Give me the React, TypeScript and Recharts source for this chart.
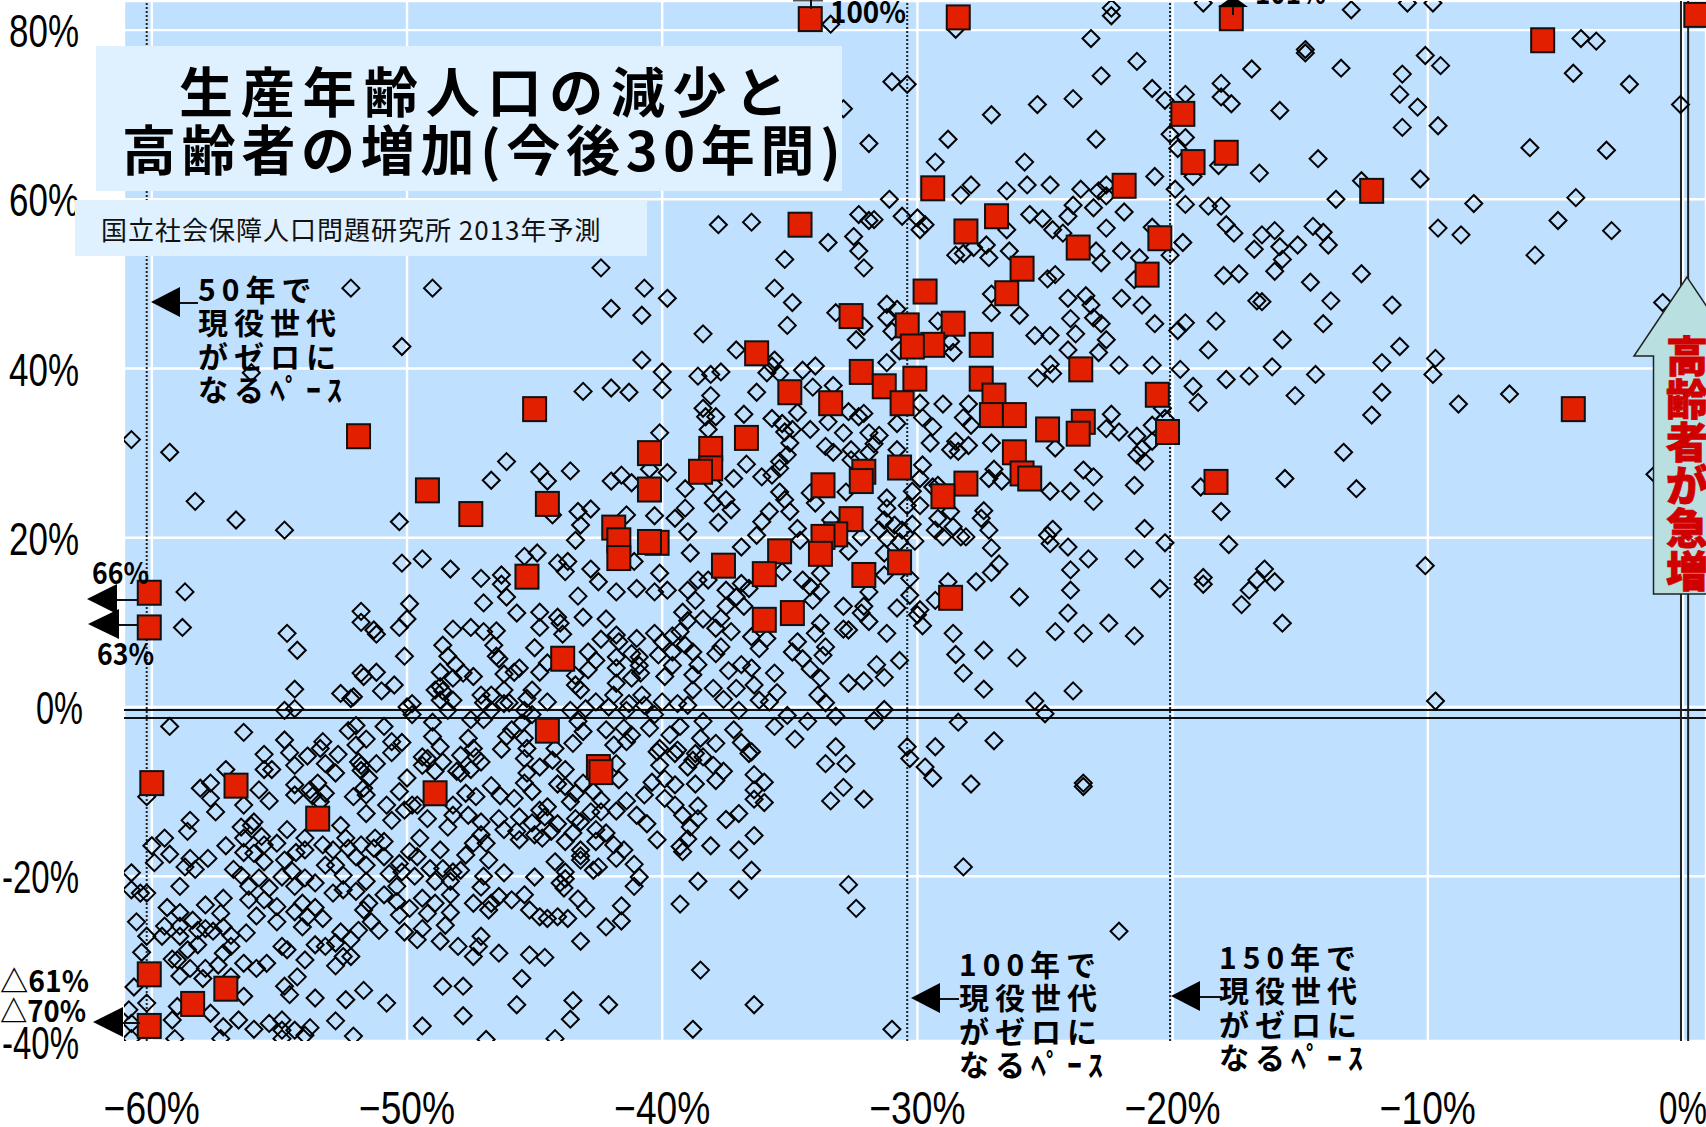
import { CartesianGrid, ReferenceLine, Scatter, ScatterChart, XAxis, YAxis } from "recharts";

const xTicks = [-60, -50, -40, -30, -20, -10, 0];
const yTicks = [80, 60, 40, 20, 0, -20, -40];

// 高齢者 / 生産年齢 change of the highlighted cities (red squares)
const highlighted: number[][] = [
  [-34.2,81.3],[-28.4,81.5],[-17.7,81.4],[-5.5,78.8],[0.5,81.8],[-19.6,70.1],[-17.9,65.5],[-19.2,64.4],[-21.9,61.6],[-29.4,61.3],
  [-12.2,61.0],[-26.9,58.0],[-34.6,57.0],[-28.1,56.2],[-20.5,55.4],[-23.7,54.3],[-25.9,51.8],[-21.0,51.1],[-29.7,49.1],[-26.5,48.9],
  [-32.6,46.2],[-28.6,45.3],[-30.4,45.1],[-29.4,42.8],[-30.2,42.6],[-27.5,42.8],[-36.3,41.8],[-23.6,39.9],[-32.2,39.6],[-27.5,38.8],
  [-30.1,38.8],[-31.3,37.9],[-35.0,37.2],[-20.6,36.9],[-27.0,36.8],[-30.6,35.9],[-33.4,35.9],[-45.0,35.2],[-4.3,35.2],[-27.1,34.5],
  [-26.2,34.5],[-23.5,33.7],[-23.7,32.3],[-24.9,32.8],[-20.2,32.5],[-51.9,32.0],[-36.7,31.8],[-38.1,30.5],[-40.5,30.0],[-26.2,30.1],
  [-25.9,27.6],[-25.6,27.0],[-30.7,28.3],[-38.1,28.2],[-38.5,27.8],[-32.1,27.8],[-32.2,26.7],[-33.7,26.2],[-28.1,26.4],[-18.3,26.6],
  [-40.5,25.7],[-49.2,25.6],[-29.0,24.9],[-47.5,22.8],[-44.5,24.0],[-32.6,22.2],[-41.9,21.2],[-33.2,20.4],[-33.7,20.1],[-40.2,19.4],
  [-40.5,19.5],[-41.7,19.7],[-41.7,17.6],[-33.8,18.1],[-30.7,17.1],[-35.4,18.4],[-37.6,16.7],[-36.0,15.7],[-32.1,15.6],[-45.3,15.4],
  [-28.7,12.9],[-60.1,13.5],[-60.1,9.4],[-34.9,11.1],[-36.0,10.3],[-43.9,5.7],[-44.5,-2.8],[-42.5,-7.1],[-42.4,-7.7],[-48.9,-10.2],
  [-60.0,-9.0],[-56.7,-9.3],[-53.5,-13.2],[-60.1,-31.6],[-57.1,-33.3],[-58.4,-35.1],[-60.1,-37.7],
];

// all other cities (open diamonds), right part of the plot
const citiesEast: number[][] = [
  [-18.8,83.2],[-13.0,82.4],[-10.8,83.2],[-9.8,83.2],[-14.8,77.7],[-14.8,77.3],[-10.1,77.0],[-9.5,75.8],[-16.9,75.4],[-13.4,75.5],
  [-21.4,76.3],[-11.0,74.8],[-4.0,79.0],[-3.4,78.7],[-4.3,74.9],[-2.1,73.6],[-18.1,73.7],[-20.8,73.1],[-19.5,72.4],[-20.3,71.7],
  [-18.1,72.1],[-17.7,71.3],[-11.1,72.4],[-10.4,70.9],[-15.8,70.5],[-0.1,71.2],[-11.0,68.5],[-9.6,68.7],[-20.1,67.7],[-19.5,67.3],
  [-19.8,66.0],[-6.0,66.1],[-3.0,65.8],[-14.3,64.8],[-18.2,64.0],[-16.6,63.1],[-19.2,62.7],[-20.7,62.7],[-12.6,62.2],[-10.3,62.4],
  [-19.9,61.2],[-19.5,59.4],[-18.6,59.2],[-18.1,59.2],[-13.6,60.0],[-8.2,59.5],[-4.2,60.2],[-17.9,57.0],[-20.8,56.7],[-17.6,56.0],
  [-16.5,55.8],[-16.0,56.3],[-14.5,56.8],[-14.1,56.1],[-9.6,56.6],[-8.7,55.8],[-4.9,57.5],[-2.8,56.3],[-19.6,54.9],[-16.8,54.1],
  [-15.8,54.4],[-15.1,54.6],[-13.9,54.6],[-20.1,53.4],[-21.3,53.1],[-15.7,52.9],[-5.8,53.4],[-18.0,51.0],[-17.4,51.2],[-16.0,51.5],
  [-14.6,50.2],[-12.6,51.2],[-16.7,48.0],[-16.5,47.9],[-21.2,47.5],[-13.8,48.0],[-11.4,47.5],[-0.8,47.8],[-20.7,45.3],[-19.5,45.4],
  [-19.8,44.5],[-18.3,45.6],[-14.1,45.3],[-18.6,42.2],[-15.7,43.4],[-11.1,42.6],[-20.8,40.4],[-19.7,39.9],[-16.1,40.2],[-11.8,40.7],
  [-9.7,41.2],[-14.4,39.3],[-9.8,39.3],[-17.9,38.7],[-17.0,39.1],[-19.2,37.9],[-19.0,36.0],[-15.2,36.8],[-11.8,37.2],[-6.8,37.0],
  [-8.8,35.8],[-12.2,34.5],[-13.3,30.1],[-15.6,27.0],[-12.8,25.8],[-18.9,26.0],[-18.1,23.1],[-21.1,21.1],[-20.3,19.4],[-17.8,19.2],
  [-21.5,17.5],[-16.4,16.3],[-16.7,15.0],[-16.0,14.8],[-18.8,15.3],[-18.8,14.5],[-17.0,13.8],[-20.5,14.0],[-17.3,12.1],[-15.7,9.9],
  [-21.5,8.4],[-10.1,16.7],[-9.7,0.7],[-1.1,27.5],[-21.5,26.2],[-21.1,29.0],[-21.4,29.8],[-21.2,30.5],[-20.8,31.4],[-20.8,33.3],
  [-21.4,32.0],[-20.3,34.1],[-20.4,35.3],
];

// middle of the plot, above the 40% line
const citiesUpperMiddle: number[][] = [
  [-33.4,80.7],[-28.5,80.1],[-22.4,82.6],[-22.4,81.7],[-23.2,79.0],[-31.0,73.9],[-30.4,73.6],[-22.8,74.6],[-23.9,71.9],[-25.3,71.2],
  [-27.1,70.0],[-32.9,70.7],[-31.9,66.6],[-28.8,67.1],[-23.0,67.1],[-29.3,64.4],[-25.8,64.4],[-27.9,61.7],[-28.3,60.5],[-26.5,61.0],
  [-25.7,61.7],[-24.8,61.7],[-23.6,61.2],[-22.6,61.7],[-22.9,61.0],[-22.6,60.4],[-31.1,60.0],[-32.3,58.2],[-31.9,57.5],[-31.7,57.6],
  [-30.6,58.0],[-30.0,57.8],[-29.7,57.0],[-29.9,56.4],[-25.6,58.2],[-25.1,57.7],[-23.9,59.3],[-24.1,58.0],[-23.1,59.0],[-21.9,58.5],
  [-24.7,56.4],[-24.3,56.0],[-22.6,56.6],[-26.5,56.4],[-37.8,57.0],[-36.5,57.3],[-33.5,54.9],[-32.5,55.6],[-32.3,53.9],[-27.3,54.6],
  [-27.8,54.3],[-28.2,53.6],[-28.5,53.4],[-27.2,53.1],[-26.4,53.9],[-23.0,53.9],[-22.0,53.9],[-22.8,52.5],[-35.2,52.9],
  [-42.4,51.9],[-32.1,51.9],[-24.6,51.1],[-24.9,50.6],[-21.5,50.5],[-40.7,49.5],[-39.8,48.3],[-35.6,49.5],[-34.9,47.8],[-42.0,47.1],
  [-40.8,46.3],[-35.1,45.1],[-38.4,44.1],[-33.2,46.6],[-31.2,47.6],[-30.8,47.0],[-31.2,46.0],[-29.2,45.6],[-31.0,44.4],[-32.1,45.0],
  [-32.4,43.4],[-27.1,48.8],[-27.1,46.6],[-26.0,46.3],[-24.1,48.3],[-23.4,48.6],[-23.2,47.5],[-22.0,48.3],[-24.0,45.9],
  [-23.1,46.0],[-22.8,45.3],[-25.4,43.9],[-24.8,43.9],[-23.8,44.1],[-22.6,43.4],[-24.1,42.2],[-22.9,41.9],[-22.1,40.4],[-24.8,40.5],
  [-24.7,39.4],[-25.3,38.9],[-28.6,41.9],[-28.7,43.2],[-30.7,42.1],[-31.2,40.7],[-40.8,41.0],[-37.1,42.2],[-35.6,41.0],[-35.7,40.3],
  [-35.4,39.4],[-40.0,39.6],[-38.6,39.1],[-38.1,39.3],[-37.7,39.6],[-35.9,39.5],[-34.5,39.8],[-34.0,40.3],
  [-52.2,49.5],[-49.0,49.5],[-50.2,42.6],[-56.1,39.5],
];

// far left, from 32% down to about -5%
const citiesWest: number[][] = [
  [-60.8,31.6],[-59.3,30.1],[-58.3,24.3],[-56.7,22.1],[-54.8,20.9],[-50.3,21.9],[-46.7,26.8],[-46.1,29.0],[-44.8,27.8],[-44.5,26.7],
  [-44.3,22.7],[-50.2,17.0],[-49.4,17.5],[-48.3,16.3],[-47.1,15.2],[-45.4,17.8],[-44.9,18.2],[-44.1,17.0],[-46.3,15.6],[-46.3,14.5],
  [-46.1,13.0],[-47.0,12.3],[-45.7,11.1],[-44.8,11.2],[-44.1,10.6],[-44.8,9.4],[-58.7,13.6],[-58.8,9.4],[-54.7,8.7],[-54.3,6.7],
  [-51.8,11.3],[-51.8,10.0],[-51.3,9.1],[-51.2,8.6],[-49.9,12.2],[-50.0,10.4],[-50.3,9.4],[-48.2,9.2],[-47.5,9.4],[-47.0,8.9],
  [-46.5,9.0],[-48.6,7.3],[-46.6,7.3],[-50.1,6.0],[-48.4,6.0],[-48.1,5.0],[-46.5,6.0],[-46.4,5.7],[-45.0,7.0],[-48.7,4.1],
  [-47.8,4.0],[-47.4,3.6],[-51.8,4.0],[-51.7,3.6],[-51.2,4.1],[-48.2,3.4],[-45.6,4.6],[-45.8,4.1],[-44.8,4.1],[-46.2,3.9],
  [-50.5,2.6],[-51.0,1.9],[-54.4,2.1],[-52.6,1.6],[-52.2,1.0],[-52.1,1.2],[-48.7,2.4],[-48.6,1.9],[-48.9,2.0],[-46.2,2.0],
  [-47.1,1.4],[-46.7,1.4],[-45.1,2.0],[-48.2,0.8],[-48.7,0.8],[-47.0,0.5],[-46.2,0.4],[-46.0,0.5],[-44.5,0.6],[-45.3,1.0],
  [-54.4,-0.2],[-54.8,-0.4],[-50.0,0.0],[-49.8,0.4],[-49.8,-0.9],[-48.4,-0.4],[-45.4,-0.4],[-49.0,-1.8],[-47.5,-1.5],[-47.0,-1.5],
  [-46.7,-0.4],[-45.5,-1.9],[-45.1,-0.9],[-59.3,-2.3],[-56.4,-3.0],[-52.0,-2.2],[-52.3,-2.8],[-50.9,-2.3],[-51.6,-3.8],[-54.8,-3.9],
  [-53.3,-4.1],[-53.4,-4.9],[-55.6,-5.6],[-54.6,-5.4],[-53.9,-5.8],[-52.7,-5.6],[-52.0,-4.5],[-50.6,-4.1],[-50.2,-4.2],[-50.6,-5.4],
  [-49.0,-3.5],[-48.7,-4.7],[-49.4,-5.9],[-47.6,-3.7],[-47.4,-4.9],[-46.3,-5.0],[-46.1,-3.5],[-45.9,-2.7],[-45.4,-3.7],[-45.3,-4.9],
  [-44.2,-4.9],[-43.9,8.6],[-44.5,5.2],[-43.4,3.7],[-42.6,5.5],[-41.8,8.5],[-41.2,6.3],[-40.9,5.9],[-41.2,3.4],[-40.85,4.0],
  [-40.15,6.15],[-41.9,1.4],[-41.3,0.4],[-40.7,0.2],[-43.6,-0.4],
];

// middle of the plot, 38% down to -5%
const citiesMiddle: number[][] = [
  [-43.1,37.3],[-42.0,37.7],[-41.3,37.2],[-40.0,37.5],[-38.1,36.8],[-36.3,37.2],[-34.1,37.8],[-33.3,38.0],[-38.4,35.3],[-36.8,34.6],
  [-38.3,34.3],[-37.9,34.3],[-35.7,34.1],[-34.7,34.8],[-38.2,32.8],[-40.1,32.4],[-35.3,33.5],[-35.2,32.5],[-34.9,32.8],[-34.2,32.8],
  [-33.5,33.7],[-32.9,32.4],[-32.7,34.9],[-32.3,34.3],[-32.1,34.7],[-31.9,32.4],[-31.5,32.1],[-30.8,33.5],[-29.8,34.2],[-29.4,33.1],
  [-29.0,35.8],[-29.9,35.9],[-29.5,31.2],[-31.7,31.1],[-33.6,30.8],[-33.3,30.1],[-32.6,30.4],[-31.9,30.1],[-30.8,30.4],[-35.0,31.2],
  [-35.1,29.8],[-35.4,29.0],[-35.4,28.2],[-35.7,27.4],[-36.1,27.2],[-36.7,28.7],[-37.2,27.0],[-38.0,26.3],[-39.8,27.7],[-40.5,28.1],
  [-41.2,26.5],[-41.6,27.4],[-42.0,26.7],[-43.6,27.9],[-39.1,25.8],[-35.4,25.4],[-35.2,24.5],[-34.0,24.1],[-34.2,25.3],[-32.8,25.4],
  [-32.6,29.2],[-31.2,24.7],[-31.2,23.5],[-29.9,27.0],[-29.8,28.6],[-30.2,25.5],[-30.4,23.8],[-29.9,23.8],[-28.0,35.8],[-28.2,34.2],
  [-27.9,33.3],[-28.0,30.9],[-28.5,31.4],[-28.7,30.4],[-28.4,30.2],[-27.1,31.2],[-27.0,28.1],[-27.2,27.0],[-26.7,26.7],[-24.6,30.6],
  [-23.5,28.0],[-23.1,27.2],[-24.8,25.5],[-24.0,25.5],[-23.1,24.3],[-22.1,32.5],[-22.6,32.9],[-22.4,34.6],
  [-29.2,26.2],[-27.4,23.2],[-27.5,22.3],[-27.2,20.9],[-27.1,18.8],[-26.8,16.9],[-27.1,15.9],[-27.7,14.8],[-28.8,14.8],[-29.3,12.6],
  [-26.0,13.0],[-24.7,21.0],[-24.9,20.3],[-24.8,19.3],[-24.1,18.9],[-23.3,17.5],[-24.0,16.2],[-24.0,13.8],[-24.1,11.1],
  [-22.5,9.9],[-24.6,8.9],[-23.5,8.7],[-27.4,6.7],[-26.1,5.8],[-28.5,6.2],[-28.6,8.7],[-28.2,4.0],[-27.4,2.1],
  [-23.9,1.9],[-25.4,0.7],[-25.0,-0.8],[-28.4,-1.8],[-27.0,-4.0],[-29.3,-4.7],[-30.7,5.5],[-31.6,5.0],[-31.3,3.5],[-32.1,3.1],
  [-32.7,2.8],[-30.3,13.2],[-30.3,15.2],[-31.3,15.6],[-31.9,13.6],[-30.8,11.7],[-29.9,11.5],[-30.0,10.9],[-29.8,9.6],[-31.2,8.7],
  [-32.1,11.9],[-32.2,11.1],[-31.9,10.1],[-32.9,11.9],[-33.8,15.8],[-34.5,15.0],[-34.2,14.2],[-33.8,13.6],[-34.1,12.6],[-33.8,9.9],
  [-32.9,9.2],[-32.7,9.1],[-34.0,8.7],[-34.9,6.5],[-34.7,7.7],[-33.6,7.1],[-33.7,6.1],[-34.5,5.7],[-34.2,4.5],[-33.8,3.4],
  [-33.9,1.4],[-33.6,0.5],[-31.3,-0.3],[-31.7,-1.6],[-33.2,-1.1],[-34.3,-1.7],[-35.6,-2.3],[-34.8,-3.8],[-33.2,-4.7],[-30.4,-4.7],
  [-35.1,-1.0],[-35.5,1.7],[-35.6,4.0],[-36.5,4.6],[-36.9,5.0],[-36.4,2.6],[-36.2,0.8],[-35.8,0.6],[-36.2,6.9],[-36.5,8.3],
  [-35.9,8.1],[-37.3,8.9],[-37.7,7.1],[-37.9,6.3],[-37.9,9.3],[-37.7,10.5],[-37.5,11.9],[-38.4,10.4],[-39.0,10.2],[-39.2,11.2],
  [-40.3,8.7],[-40.0,7.7],[-39.6,8.4],[-39.3,8.9],[-39.1,7.3],[-38.8,6.5],[-39.6,6.5],[-41.0,8.1],[-41.7,7.7],[-42.4,8.0],
  [-42.2,10.4],[-43.1,10.6],[-44.0,9.9],[-41.8,5.9],[-42.9,6.5],[-40.9,4.9],[-41.8,4.6],[-42.9,4.4],[-39.9,3.6],[-39.6,4.9],
  [-41.8,2.8],[-43.4,2.6],[-43.2,2.0],[-38.8,2.0],[-38.8,3.8],[-38.6,5.0],[-38.0,2.2],[-37.4,4.3],[-37.1,2.2],[-37.6,0.9],
  [-37.0,-0.4],[-40.8,1.4],[-40.0,0.6],[-42.6,0.6],[-42.1,0.0],[-43.0,-0.2],[-41.4,-0.4],[-39.4,0.4],[-39.0,0.2],[-40.3,-0.9],
  [-39.3,-2.3],[-40.5,-2.5],[-41.5,-2.5],[-42.2,-2.7],[-43.1,-2.9],[-43.3,-1.7],[-41.4,-4.1],[-39.7,-3.3],[-38.5,-3.7],[-37.9,-4.3],
  [-37.2,-2.7],[-36.9,-4.2],[-36.5,-5.3],[-38.4,-1.7],[-43.5,-4.3],[-40.1,-4.9],[-39.4,-5.1],[-38.7,-5.5],[-41.9,-4.5],[-38.0,24.1],
  [-37.5,24.5],[-37.3,23.3],[-37.8,21.8],[-39.1,23.5],[-39.5,22.3],[-39.0,20.7],[-40.3,22.6],[-41.4,22.7],[-43.3,23.1],[-42.8,23.4],
  [-43.2,21.5],[-43.4,19.7],[-43.7,17.2],[-43.8,16.0],[-42.8,16.3],[-42.5,14.8],[-41.8,13.6],[-41.0,14.0],[-40.3,13.6],[-39.8,13.8],
  [-40.1,15.8],[-41.1,17.2],[-38.9,18.2],[-39.0,13.8],[-38.7,12.6],[-38.6,15.0],[-43.3,13.1],[-38.2,15.0],[-36.9,18.9],[-36.3,20.3],
  [-36.1,21.9],[-35.8,23.1],[-35.0,23.1],[-34.7,21.1],[-34.6,19.7],[-35.3,16.0],[-36.9,14.6],[-37.5,13.8],[-37.1,13.0],[-36.8,11.9],
  [-36.6,14.0],[-33.4,22.1],[-32.2,20.1],[-32.7,18.4],[-31.3,22.1],[-31.5,20.9],[-31.2,19.9],[-31.3,18.2],[-30.9,21.5],[-30.6,20.9],
  [-30.7,19.5],[-30.2,21.6],[-30.1,19.6],[-29.3,20.9],[-29.0,20.1],[-28.6,21.3],[-28.3,20.1],[-28.1,20.1],[-29.2,22.3],[-28.7,23.1],
  [-29.4,26.0],
];

// lower left, below about -5%
const citiesSouthWest: number[][] = [
  [-57.1,-7.4],[-58.1,-9.6],[-57.7,-9.0],[-57.7,-10.8],[-60.2,-10.6],[-57.5,-12.4],[-56.4,-11.6],[-55.8,-9.8],[-55.4,-11.1],[-55.6,-7.4],
  [-55.3,-7.4],[-54.4,-6.9],[-53.2,-6.7],[-52.8,-7.8],[-51.9,-6.5],[-51.2,-6.7],
  [-51.5,-8.4],[-51.8,-7.5],[-50.0,-8.4],[-52.1,-10.6],[-51.6,-10.4],[-51.6,-12.6],[-54.4,-9.2],[-53.5,-9.0],[-53.8,-9.8],[-53.2,-10.2],
  [-54.4,-10.4],[-53.4,-11.2],[-50.8,-11.6],[-50.6,-13.4],[-50.3,-10.0],[-50.1,-12.2],[-49.8,-11.6],[-49.6,-11.6],[-49.4,-6.9],[-49.2,-6.1],
  [-48.6,-6.5],[-48.9,-7.6],[-47.9,-7.8],[-47.5,-7.4],[-47.1,-6.5],[-47.3,-10.6],[-46.7,-9.3],[-48.2,-11.6],[-49.2,-13.2],[-48.4,-14.2],
  [-48.2,-12.8],[-47.6,-12.8],[-47.1,-13.6],[-46.4,-13.2],[-45.8,-10.8],[-45.1,-10.0],[-44.8,-12.2],[-44.5,-11.8],[-45.6,-13.0],[-45.1,-13.7],
  [-46.2,-14.5],[-45.6,-15.7],[-44.7,-15.5],[-46.9,-16.1],[-47.4,-16.1],[-49.5,-15.5],[-48.7,-16.9],[-49.9,-17.1],[-50.9,-15.9],
  [-51.8,-16.3],[-52.4,-15.5],[-53.3,-16.3],[-54.0,-15.5],[-54.7,-14.5],[-52.6,-14.0],[-55.1,-16.1],[-55.6,-16.3],[-56.4,-15.5],[-57.1,-16.4],
  [-56.1,-14.0],[-56.5,-14.2],[-56.0,-13.6],[-58.5,-13.4],[-58.6,-14.7],[-59.5,-15.5],[-60.0,-16.4],[-59.3,-17.4],[-59.9,-18.4],[-58.5,-17.9],
  [-57.8,-17.9],[-58.3,-19.2],[-58.7,-18.9],[-60.8,-19.6],[-60.8,-21.6],[-60.2,-22.0],[-58.9,-21.2],[-56.8,-19.2],[-56.5,-19.9],[-56.4,-17.2],
  [-56.0,-17.3],[-55.6,-18.3],[-54.8,-18.1],[-54.0,-16.9],[-55.8,-20.2],[-56.2,-21.2],[-55.4,-21.4],[-54.9,-20.1],[-54.5,-19.4],[-54.4,-21.2],
  [-54.0,-20.2],[-53.6,-20.8],[-52.9,-22.0],[-52.5,-21.6],[-52.5,-19.9],[-53.2,-18.7],[-52.8,-18.7],[-52.0,-17.7],[-51.6,-18.7],[-51.6,-20.6],
  [-52.0,-21.8],[-50.9,-17.7],[-50.7,-19.7],[-50.3,-18.5],[-50.4,-21.2],[-50.9,-22.2],[-49.6,-17.7],[-49.7,-20.0],[-49.1,-19.1],[-48.6,-19.1],
  [-48.9,-20.6],[-48.2,-19.5],[-47.9,-19.3],[-47.0,-20.0],[-46.8,-18.1],[-46.2,-19.6],[-45.0,-20.1],[-44.2,-18.3],[-44.0,-20.8],[-47.1,-21.3],
  [-48.3,-22.2],[-49.4,-22.6],[-49.9,-23.8],[-50.3,-24.6],[-48.9,-23.2],[-48.3,-24.3],[-49.2,-24.4],[-48.5,-25.8],[-49.4,-26.2],[-50.1,-26.6],
  [-49.6,-27.5],[-48.7,-27.7],[-48.0,-28.3],[-47.4,-29.5],[-47.1,-27.1],[-47.2,-28.3],[-46.4,-29.1],[-47.4,-23.2],[-46.8,-24.0],[-46.4,-22.4],
  [-45.9,-22.8],[-45.4,-22.2],[-45.2,-24.0],[-44.8,-24.8],[-44.5,-25.0],[-44.1,-24.8],[-45.2,-29.3],[-44.6,-29.6],[-45.5,-32.1],[-48.6,-33.0],
  [-47.8,-33.0],[-45.7,-35.2],[-47.8,-36.5],[-49.4,-37.7],[-50.8,-35.0],[-51.7,-33.5],[-52.4,-34.6],[-53.6,-34.4],[-52.8,-37.1],[-52.1,-38.9],
  [-46.9,-39.3],[-44.2,-39.2],[-51.1,-26.4],[-51.9,-26.4],[-52.6,-26.6],[-51.4,-25.4],[-51.7,-24.0],[-51.5,-23.2],[-53.3,-25.0],[-53.6,-23.7],
  [-54.1,-23.2],[-53.9,-24.8],[-54.4,-24.2],[-54.1,-26.0],[-55.1,-25.4],[-55.1,-23.6],[-55.9,-24.7],[-55.6,-22.8],[-57.2,-22.6],[-57.3,-24.4],
  [-57.9,-23.4],[-58.9,-24.3],[-59.4,-23.7],[-60.6,-25.4],[-58.4,-25.2],[-58.9,-25.9],[-59.5,-25.9],[-57.9,-26.2],[-58.2,-26.4],[-57.6,-26.5],
  [-57.2,-26.0],[-56.9,-27.0],[-56.3,-26.7],[-60.2,-27.1],[-59.6,-27.1],[-58.9,-27.1],[-58.2,-28.1],[-58.6,-28.7],[-60.4,-29.0],[-57.2,-29.1],
  [-56.9,-28.3],[-59.0,-29.9],[-59.2,-29.8],[-57.4,-30.5],[-56.4,-30.3],[-55.5,-30.3],[-55.9,-30.9],[-58.5,-30.9],[-57.9,-30.9],[-58.9,-31.8],
  [-58.0,-32.1],[-56.9,-31.9],[-60.7,-33.1],[-60.2,-35.0],[-60.9,-35.8],[-56.4,-34.2],[-57.7,-36.2],[-59.2,-37.0],[-59.0,-35.4],[-60.8,-37.4],
  [-57.2,-37.8],[-56.6,-37.0],[-56.0,-38.1],[-55.4,-37.4],[-54.9,-37.0],[-54.9,-38.2],[-54.4,-38.2],[-53.8,-37.9],[-54.0,-38.8],[-54.9,-39.2],
  [-57.3,-39.2],[-59.1,-39.2],[-60.8,-39.2],[-54.9,-28.3],[-54.7,-28.7],[-53.6,-28.1],[-54.0,-29.9],[-53.2,-28.3],[-52.8,-27.9],[-52.2,-27.5],
  [-52.5,-29.5],[-52.2,-29.5],[-52.8,-30.6],[-54.3,-31.9],[-54.8,-33.0],[-54.6,-34.0],
  [-51.7,-9.6],[-60.45,-22.0],[-55.7,-15.3],[-54.35,-17.2],[-52.9,-16.9],[-52.3,-16.7],[-51.25,-15.5],[-51.3,-16.7],[-50.2,-19.5],[-50.4,-23.0],
  [-56.2,-22.8],[-51.8,-6.9],[-53.7,-10.5],[-47.9,-5.7],[-47.3,-5.9],[-48.05,-7.6],[-47.7,-10.2],[-46.35,-10.5],[-45.4,-6.1],[-45.3,-7.8],
  [-45.4,-9.0],[-44.8,-7.1],[-44.3,-6.3],[-44.1,-9.1],[-47.1,-15.1],[-47.7,-17.5],[-48.3,-20.6],[-46.7,-23.2],[-45.7,-14.7],[-45.0,-15.1],
  [-44.35,-14.7],[-44.1,-13.8],[-44.6,-13.0],
];

// lower middle, right of -44%
const citiesSouthMiddle: number[][] = [
  [-33.6,-6.7],[-32.8,-6.7],[-32.9,-9.5],[-33.4,-11.1],[-32.1,-10.9],[-30.3,-6.1],[-29.7,-7.1],[-29.4,-8.4],[-27.9,-9.1],[-23.5,-9.0],
  [-23.5,-9.4],[-28.2,-18.9],[-32.7,-21.0],[-32.4,-23.8],[-22.1,-26.5],[-31.0,-38.1],[-38.8,-38.1],[-36.4,-35.2],[-38.5,-31.1],[-42.1,-35.2],
  [-43.5,-34.7],[-43.6,-36.9],[-43.2,-27.7],[-42.2,-26.0],[-41.6,-25.3],[-41.6,-23.5],[-43.7,-25.0],[-43.3,-22.7],[-43.0,-23.8],[-39.3,-23.3],
  [-37.0,-21.6],[-38.6,-20.6],[-36.5,-19.3],[-41.1,-21.2],[-40.9,-20.1],[-41.1,-18.6],[-42.5,-18.9],[-42.7,-19.3],[-43.2,-18.1],[-41.8,-17.9],
  [-41.5,-16.9],[-40.2,-15.7],[-39.3,-16.5],[-39.0,-15.6],[-38.1,-16.4],[-37.0,-16.9],[-36.4,-15.2],[-38.9,-14.2],[-38.6,-13.2],[-37.5,-13.3],
  [-37.0,-12.6],[-39.2,-12.8],[-40.6,-13.8],[-41.0,-12.8],[-38.6,-11.7],[-39.5,-11.6],[-39.9,-10.8],[-40.7,-10.4],[-41.4,-11.1],[-41.8,-12.3],
  [-42.4,-11.0],[-41.9,-16.3],[-42.2,-14.9],[-42.6,-14.5],[-42.6,-15.9],[-43.2,-16.9],[-43.5,-14.9],[-43.4,-13.2],[-42.8,-12.4],[-42.4,-12.4],
  [-43.6,-11.2],[-43.4,-10.2],[-42.7,-10.0],[-43.1,-9.0],[-36.0,-8.9],[-36.4,-9.8],[-36.4,-8.0],[-36.0,-11.3],[-36.4,-10.9],[-36.6,-5.5],
  [-37.6,-7.6],[-37.9,-8.7],[-38.0,-6.9],[-38.4,-5.9],[-38.8,-6.3],[-39.0,-7.1],[-38.7,-9.1],[-39.5,-9.2],[-39.9,-8.5],[-40.4,-8.9],
  [-40.1,-6.9],[-39.5,-5.5],[-40.2,-5.3],[-41.8,-6.7],[-41.7,-8.6],[-43.8,-7.4],[-43.8,-9.4],[-39.2,-17.1],
  [-41.2,-3.3],[-43.2,-13.6],[-43.8,-15.9],[-43.2,-17.6],[-43.8,-19.5],[-43.8,-20.3],[-43.85,-21.4],
];

const allCities = [...citiesEast, ...citiesUpperMiddle, ...citiesWest, ...citiesMiddle, ...citiesSouthWest, ...citiesSouthMiddle];

const cityData = allCities.map(([x, y]) => ({ x, y }));
const highlightedData = highlighted.map(([x, y]) => ({ x, y }));

// pace lines: years until the working-age population reaches zero
const paceLines = [
  { x: -60.2, top: 51.9 },
  { x: -30.4, top: 83.4 },
  { x: -20.1, top: 83.4 },
];
const tickFont = '"Liberation Sans", sans-serif';
const jpFont = '"Noto Sans CJK JP", sans-serif';

const paceNote = (first: string) => [first, "現役世代", "がゼロに", "なるﾍﾟｰｽ"];

function CityMark({ cx, cy }: any) {
  const r = 8.5;
  return (
    <path
      d={`M${cx} ${cy - r}L${cx + r} ${cy}L${cx} ${cy + r}L${cx - r} ${cy}Z`}
      fill="none"
      stroke="#000"
      strokeWidth={2}
    />
  );
}

function HighlightMark({ cx, cy }: any) {
  return <rect x={cx - 11.5} y={cy - 12} width={23} height={24} fill="#e22000" stroke="#111" strokeWidth={2} />;
}

function XTick({ x, payload }: any) {
  const label = payload.value === 0 ? "0%" : `−${Math.abs(payload.value)}%`;
  return (
    <text
      x={x}
      y={1124}
      textAnchor="middle"
      fontFamily={tickFont}
      fontSize={46}
      fill="#000"
      textLength={payload.value === 0 ? 48 : 96}
      lengthAdjust="spacingAndGlyphs"
    >
      {label}
    </text>
  );
}

function YTick({ y, payload }: any) {
  const v = payload.value;
  const label = v < 0 ? `-${Math.abs(v)}%` : `${v}%`;
  return (
    <text
      x={v === 0 ? 83 : 79}
      y={(v === -40 ? y - 3 : y) + 17}
      textAnchor="end"
      fontFamily={tickFont}
      fontSize={46}
      fill="#000"
      textLength={v === 0 ? 47 : v < 0 ? 77 : 70}
      lengthAdjust="spacingAndGlyphs"
    >
      {label}
    </text>
  );
}

function Arrow({ tip, y, back, end, half = 15 }: { tip: number; y: number; back: number; end: number; half?: number }) {
  return (
    <g>
      <line x1={back} y1={y + 1} x2={end} y2={y + 1} stroke="#111" strokeWidth={2} />
      <polygon points={`${tip},${y} ${back},${y - half} ${back},${y + half}`} fill="#000" />
    </g>
  );
}

function Note({ x, y, lines, pitch = 33.3 }: { x: number; y: number; lines: string[]; pitch?: number }) {
  return (
    <text fontFamily={jpFont} fontWeight={700} fontSize={30} fill="#000" style={{ letterSpacing: 6 }}>
      {lines.map((l, i) => (
        <tspan key={l} x={x} y={y + i * pitch}>
          {l}
        </tspan>
      ))}
    </text>
  );
}

function Small({ x, y, text, w }: { x: number; y: number; text: string; w: number }) {
  return (
    <text
      x={x}
      y={y}
      fontFamily={jpFont}
      fontWeight={700}
      fontSize={30}
      fill="#000"
      textLength={w}
      lengthAdjust="spacingAndGlyphs"
    >
      {text}
    </text>
  );
}

function Overlay() {
  return (
    <svg width={1706} height={1127} style={{ position: "absolute", left: 0, top: 0, pointerEvents: "none" }}>
      <rect x={96} y={46} width={746} height={145} fill="#dff1ff" />
      <text x={179} y={113} fontFamily={jpFont} fontWeight={700} fontSize={54} fill="#000" style={{ letterSpacing: 7.7 }}>
        生産年齢人口の減少と
      </text>
      <text x={122} y={171} fontFamily={jpFont} fontWeight={700} fontSize={54} fill="#000" style={{ letterSpacing: 5.7 }}>
        高齢者の増加(今後30年間)
      </text>
      <rect x={75} y={200} width={572} height={56} fill="#dff1ff" />
      <text x={101} y={240} fontFamily={jpFont} fontSize={26} fill="#111" style={{ letterSpacing: 1 }}>
        国立社会保障人口問題研究所 2013年予測
      </text>

      <Note x={198} y={301} lines={paceNote("50年で")} />
      <Arrow tip={151} y={302} back={180} end={198} />
      <Note x={959} y={976} lines={paceNote("100年で")} />
      <Arrow tip={911} y={998} back={940} end={959} />
      <Note x={1219} y={969} lines={paceNote("150年で")} />
      <Arrow tip={1171} y={996} back={1200} end={1222} />

      <Small x={92} y={584} text="66%" w={57} />
      <Arrow tip={87} y={599} back={117} end={137} />
      <Small x={97} y={665} text="63%" w={57} />
      <Arrow tip={88} y={624} back={119} end={137} />
      <Small x={0} y={992} text="△61%" w={89} />
      <Small x={0} y={1022} text="△70%" w={86} />
      <Arrow tip={93} y={1022} back={123} end={140} />

      <Small x={830} y={23} text="100%" w={76} />
      <rect x={793} y={0} width={30} height={1.5} fill="#555" />
      <line x1={811} y1={0} x2={811} y2={9} stroke="#111" strokeWidth={2} />
      <Small x={1255} y={4} text="101%" w={71} />
      <polygon points="1233,-4 1218,7 1248,7" fill="#000" />
      <line x1={1233} y1={6} x2={1233} y2={15} stroke="#111" strokeWidth={2} />

      <polygon
        points="1687,277 1634,356 1653.5,356 1653.5,594 1720.5,594 1720.5,356 1740,356"
        fill="#b9dfe0"
        stroke="#222"
        strokeWidth={1.5}
      />
      {"高齢者が急増".split("").map((c, i) => (
        <text
          key={c}
          x={1687}
          y={372 + i * 43}
          textAnchor="middle"
          fontFamily={jpFont}
          fontWeight={900}
          fontSize={42}
          fill="#d00000"
          stroke="#d00000"
          strokeWidth={0.8}
        >
          {c}
        </text>
      ))}
    </svg>
  );
}

export default function App() {
  return (
    <div style={{ position: "absolute", left: 0, top: 0, width: 1706, height: 1127, overflow: "hidden", background: "#fff" }}>
      <ScatterChart width={1706} height={1127} margin={{ top: 1, right: 0, bottom: 0, left: 0 }}>
        <CartesianGrid fill="#bfe0ff" stroke="#fff" strokeWidth={2.4} strokeOpacity={1} />
        <XAxis
          type="number"
          dataKey="x"
          domain={[-61.09, 0.9]}
          ticks={xTicks}
          allowDataOverflow
          interval={0}
          height={86}
          axisLine={false}
          tickLine={false}
          tick={<XTick />}
        />
        <YAxis
          type="number"
          dataKey="y"
          domain={[-39.48, 83.44]}
          ticks={yTicks}
          allowDataOverflow
          interval={0}
          width={124}
          axisLine={false}
          tickLine={false}
          tick={<YTick />}
        />
        <Scatter data={cityData} isAnimationActive={false} shape={<CityMark />} />
        <Scatter data={highlightedData} isAnimationActive={false} shape={<HighlightMark />} />
        <ReferenceLine y={-0.35} stroke="#111" strokeWidth={2} segment={[{ x: -60.9, y: -0.35 }, { x: 0.8, y: -0.35 }]} />
        <ReferenceLine y={-1.3} stroke="#111" strokeWidth={2} segment={[{ x: -60.9, y: -1.3 }, { x: 0.8, y: -1.3 }]} />
        <ReferenceLine x={-0.08} stroke="#222" strokeWidth={2} segment={[{ x: -0.08, y: 82.8 }, { x: -0.08, y: -39.3 }]} />
        <ReferenceLine x={0.2} stroke="#222" strokeWidth={2} segment={[{ x: 0.2, y: 82.8 }, { x: 0.2, y: -39.3 }]} />
        {paceLines.map((p) => (
          <ReferenceLine
            key={p.x}
            x={p.x}
            stroke="#222"
            strokeWidth={2}
            strokeDasharray="2 2"
            segment={[{ x: p.x, y: p.top }, { x: p.x, y: -38.6 }]}
          />
        ))}
      </ScatterChart>
      <Overlay />
    </div>
  );
}
